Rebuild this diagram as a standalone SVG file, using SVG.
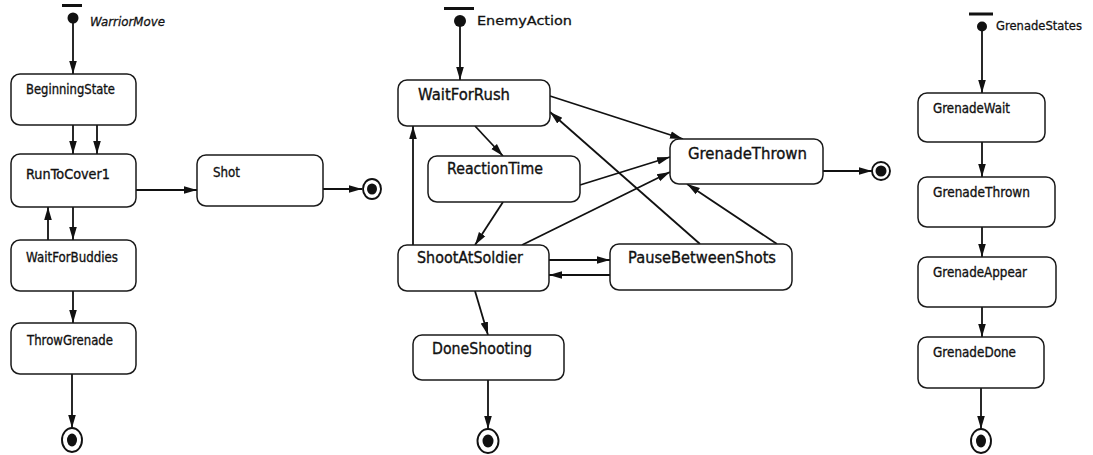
<svg xmlns="http://www.w3.org/2000/svg" width="1093" height="455" viewBox="0 0 1093 455">
<defs>
<marker id="arr" markerUnits="userSpaceOnUse" markerWidth="15" markerHeight="10" refX="13" refY="5" orient="auto">
<path d="M0,1.2 L13,5 L0,8.8 z" fill="#111"/>
</marker>
</defs>
<style>
.st{fill:#fff;stroke:#1a1a1a;stroke-width:1.5}
.t{font-family:"DejaVu Sans","Liberation Sans",sans-serif;fill:#111;stroke:#111;stroke-width:0.35}
.s{font-size:14px}
.m{font-size:15px}
.lbl{font-family:"DejaVu Sans","Liberation Sans",sans-serif;fill:#111;stroke:#111;stroke-width:0.3;font-size:13px}
.c line{stroke:#111;stroke-width:1.8;fill:none;marker-end:url(#arr)}
.bar{stroke:#111;stroke-width:3}
.dot{fill:#111}
.fo{fill:#fff;stroke:#111;stroke-width:1.9}
</style>
<rect width="1093" height="455" fill="#fff"/>

<g id="connectors" class="c">
<line x1="73" y1="22" x2="73" y2="74"/>
<line x1="73" y1="125" x2="73" y2="154"/>
<line x1="97" y1="125" x2="97" y2="154"/>
<line x1="136" y1="190" x2="197" y2="190"/>
<line x1="323" y1="189" x2="362" y2="189"/>
<line x1="48" y1="240" x2="48" y2="207"/>
<line x1="73" y1="207" x2="73" y2="240"/>
<line x1="73" y1="291" x2="73" y2="323"/>
<line x1="72" y1="374" x2="72" y2="428"/>
<line x1="460" y1="26" x2="460" y2="80"/>
<line x1="475" y1="126" x2="503" y2="156"/>
<line x1="550" y1="96" x2="683" y2="139"/>
<line x1="503" y1="202" x2="475" y2="245"/>
<line x1="580" y1="185" x2="670" y2="157"/>
<line x1="522" y1="245" x2="670" y2="172"/>
<line x1="413" y1="245" x2="413" y2="126"/>
<line x1="700" y1="244" x2="550" y2="112"/>
<line x1="777" y1="244" x2="687" y2="184"/>
<line x1="549" y1="260" x2="610" y2="260"/>
<line x1="610" y1="275" x2="549" y2="275"/>
<line x1="475" y1="291" x2="488" y2="335"/>
<line x1="488" y1="380" x2="488" y2="429"/>
<line x1="823" y1="171" x2="872" y2="171"/>
<line x1="982" y1="31" x2="982" y2="93"/>
<line x1="982" y1="142" x2="982" y2="177"/>
<line x1="982" y1="227" x2="982" y2="257"/>
<line x1="982" y1="307" x2="982" y2="337"/>
<line x1="981" y1="388" x2="981" y2="429"/>
</g>

<g id="init-warrior">
<line class="bar" x1="62" y1="5.5" x2="82" y2="5.5"/>
<circle class="dot" cx="73" cy="18" r="5.5"/>
<text class="lbl" x="90" y="26" font-style="italic" textLength="75" lengthAdjust="spacingAndGlyphs">WarriorMove</text>
</g>
<g id="BeginningState">
<rect class="st" x="11" y="74" width="125" height="51" rx="9"/>
<text class="t s" x="26" y="94" textLength="89" lengthAdjust="spacingAndGlyphs">BeginningState</text>
</g>
<g id="RunToCover1">
<rect class="st" x="11" y="154" width="125" height="53" rx="9"/>
<text class="t s" x="26" y="179" textLength="84" lengthAdjust="spacingAndGlyphs">RunToCover1</text>
</g>
<g id="Shot">
<rect class="st" x="197" y="155" width="126" height="51" rx="9"/>
<text class="t s" x="213" y="177" textLength="27" lengthAdjust="spacingAndGlyphs">Shot</text>
</g>
<g id="final-shot">
<ellipse class="fo" cx="372" cy="189" rx="9" ry="10"/>
<ellipse class="dot" cx="372" cy="189" rx="5" ry="5.5"/>
</g>
<g id="WaitForBuddies">
<rect class="st" x="11" y="240" width="125" height="51" rx="9"/>
<text class="t s" x="26" y="262" textLength="92" lengthAdjust="spacingAndGlyphs">WaitForBuddies</text>
</g>
<g id="ThrowGrenade">
<rect class="st" x="11" y="323" width="125" height="51" rx="9"/>
<text class="t s" x="27" y="345" textLength="86" lengthAdjust="spacingAndGlyphs">ThrowGrenade</text>
</g>
<g id="final-warrior">
<ellipse class="fo" cx="72" cy="440" rx="10" ry="12"/>
<ellipse class="dot" cx="72" cy="440" rx="5" ry="6.5"/>
</g>

<g id="init-enemy">
<line class="bar" x1="444" y1="8.5" x2="474" y2="8.5"/>
<circle class="dot" cx="460" cy="21" r="6"/>
<text class="lbl" x="477" y="25" textLength="95" lengthAdjust="spacingAndGlyphs">EnemyAction</text>
</g>
<g id="WaitForRush">
<rect class="st" x="398" y="80" width="152" height="46" rx="9"/>
<text class="t m" x="418" y="100" textLength="92" lengthAdjust="spacingAndGlyphs">WaitForRush</text>
</g>
<g id="ReactionTime">
<rect class="st" x="428" y="156" width="152" height="46" rx="9"/>
<text class="t m" x="447" y="174" textLength="96" lengthAdjust="spacingAndGlyphs">ReactionTime</text>
</g>
<g id="GrenadeThrown1">
<rect class="st" x="670" y="139" width="153" height="45" rx="9"/>
<text class="t m" x="688" y="159" textLength="119" lengthAdjust="spacingAndGlyphs">GrenadeThrown</text>
</g>
<g id="final-grenadethrown">
<circle class="fo" cx="881" cy="171" r="9"/>
<circle class="dot" cx="881" cy="171" r="5.5"/>
</g>
<g id="ShootAtSoldier">
<rect class="st" x="398" y="245" width="151" height="46" rx="9"/>
<text class="t m" x="417" y="263" textLength="106" lengthAdjust="spacingAndGlyphs">ShootAtSoldier</text>
</g>
<g id="PauseBetweenShots">
<rect class="st" x="610" y="244" width="182" height="46" rx="9"/>
<text class="t m" x="628" y="263" textLength="148" lengthAdjust="spacingAndGlyphs">PauseBetweenShots</text>
</g>
<g id="DoneShooting">
<rect class="st" x="413" y="335" width="151" height="45" rx="9"/>
<text class="t m" x="432" y="354" textLength="100" lengthAdjust="spacingAndGlyphs">DoneShooting</text>
</g>
<g id="final-enemy">
<ellipse class="fo" cx="488" cy="441" rx="10.5" ry="12"/>
<ellipse class="dot" cx="488" cy="441" rx="5.5" ry="6.5"/>
</g>

<g id="init-grenade">
<line class="bar" x1="969" y1="14" x2="993" y2="14"/>
<circle class="dot" cx="982" cy="26.5" r="5"/>
<text class="lbl" x="996" y="30" textLength="86" lengthAdjust="spacingAndGlyphs">GrenadeStates</text>
</g>
<g id="GrenadeWait">
<rect class="st" x="918" y="93" width="127" height="49" rx="9"/>
<text class="t s" x="933" y="113" textLength="77" lengthAdjust="spacingAndGlyphs">GrenadeWait</text>
</g>
<g id="GrenadeThrown2">
<rect class="st" x="918" y="177" width="137" height="50" rx="9"/>
<text class="t s" x="933" y="197" textLength="97" lengthAdjust="spacingAndGlyphs">GrenadeThrown</text>
</g>
<g id="GrenadeAppear">
<rect class="st" x="918" y="257" width="138" height="50" rx="9"/>
<text class="t s" x="933" y="277" textLength="94" lengthAdjust="spacingAndGlyphs">GrenadeAppear</text>
</g>
<g id="GrenadeDone">
<rect class="st" x="918" y="337" width="126" height="51" rx="9"/>
<text class="t s" x="933" y="357" textLength="83" lengthAdjust="spacingAndGlyphs">GrenadeDone</text>
</g>
<g id="final-grenade">
<ellipse class="fo" cx="981" cy="441" rx="10" ry="12"/>
<ellipse class="dot" cx="981" cy="441" rx="5" ry="6.5"/>
</g>
</svg>
